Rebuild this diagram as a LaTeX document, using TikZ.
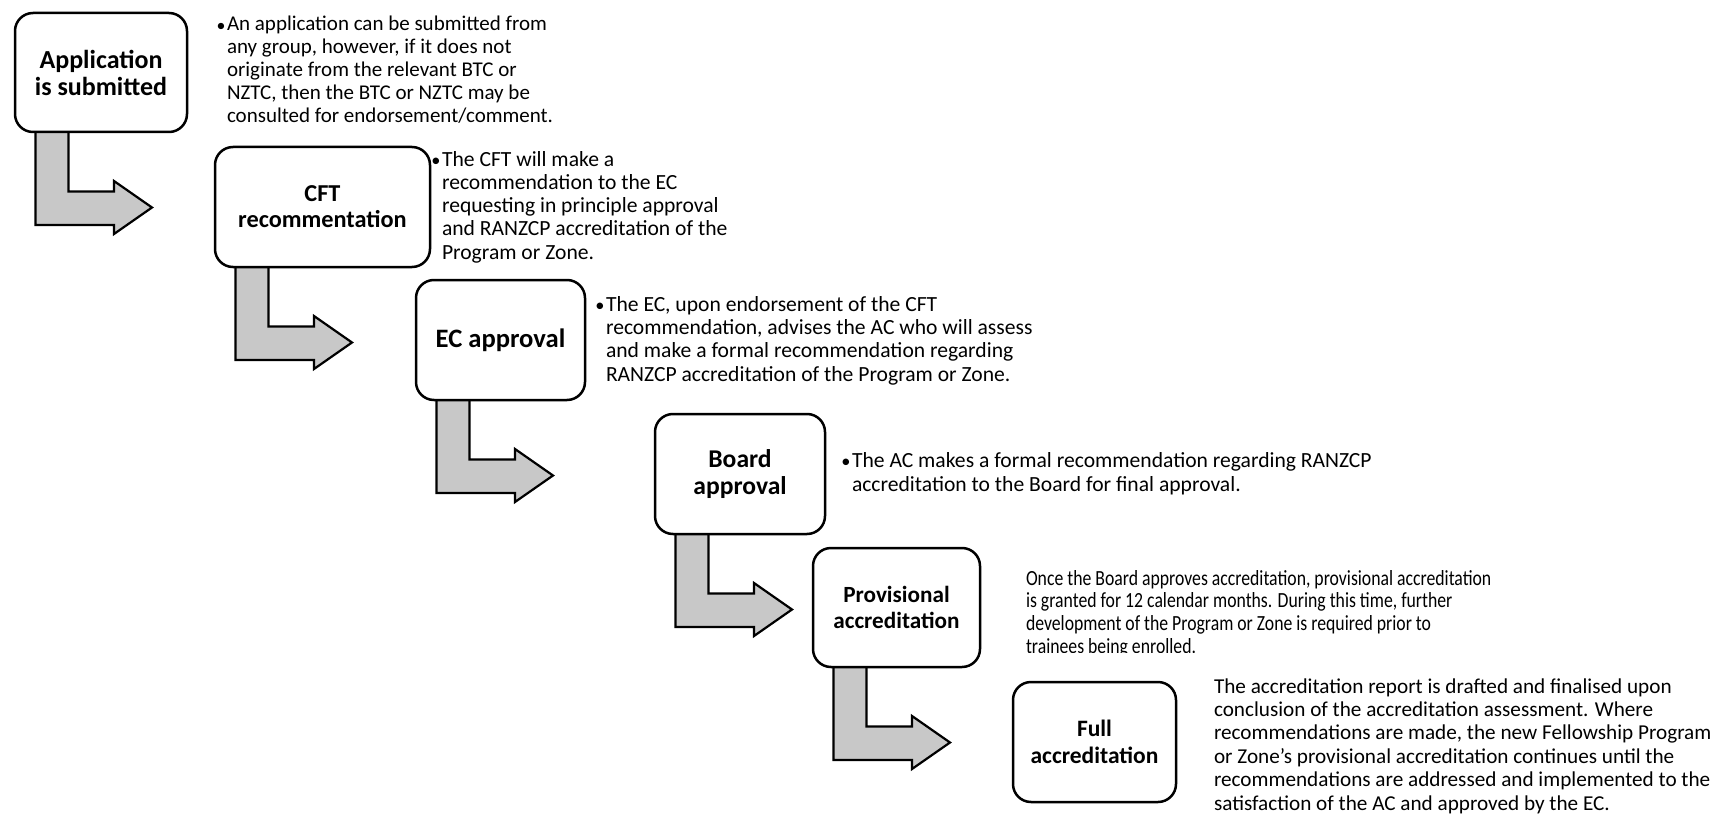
\documentclass[tikz,border=0pt]{standalone}
\usepackage{fontspec}
\setmainfont{Carlito}
\usetikzlibrary{backgrounds}
\definecolor{arrowgray}{RGB}{200,200,200}
\tikzset{
  stepbox/.style={draw, line width=2.5pt, rounded corners=18pt, fill=white,
    align=center, inner sep=0pt, outer sep=0pt},
  note/.style={anchor=base west, align=left, inner sep=0pt, outer sep=0pt,
    font=\fontsize{21.6}{23.3}\selectfont},
  blockarrow/.style={draw, line width=2.2pt, fill=arrowgray, line join=miter},
}
\newcommand{\bult}{\llap{\scalebox{0.85}{\textbullet}\kern1.5pt}}
\newcommand{\larrow}[1]{%
  \draw[blockarrow, shift={(#1.south west)}]
    (20.5,-3) -- (20.5,93) -- (99,93) -- (99,102) -- (137,75.5) -- (99,49)
    -- (99,59.5) -- (53.5,59.5) -- (53.5,-3) -- cycle;}
\begin{document}
\begin{tikzpicture}[x=1pt,y=-1pt]
\useasboundingbox (0,0) rectangle (1719,824);
% boxes
\node[stepbox, minimum width=172pt, minimum height=119pt,
  font=\bfseries\fontsize{26}{27}\selectfont] (b1) at (101,72.5) {Application\\is submitted};
\node[stepbox, minimum width=215pt, minimum height=120pt,
  font=\bfseries\fontsize{24.3}{26}\selectfont] (b2) at (322.5,207) {CFT\\recommentation};
\node[stepbox, minimum width=169pt, minimum height=120pt,
  font=\bfseries\fontsize{26.6}{27}\selectfont] (b3) at (500.5,340) {EC approval};
\node[stepbox, minimum width=170pt, minimum height=120pt,
  font=\bfseries\fontsize{25.6}{26.5}\selectfont] (b4) at (740,474) {Board\\approval};
\node[stepbox, minimum width=167pt, minimum height=119pt,
  font=\bfseries\fontsize{23.2}{26}\selectfont] (b5) at (896.5,607.5) {Provisional\\accreditation};
\node[stepbox, minimum width=163pt, minimum height=120pt,
  font=\bfseries\fontsize{23.5}{27}\selectfont] (b6) at (1094.5,742) {Full\\accreditation};
% arrows, beneath the boxes
\begin{scope}[on background layer]
\larrow{b1}
\larrow{b2}
\larrow{b3}
\larrow{b4}
\larrow{b5}
\end{scope}
% notes (anchored at the baseline of their last line)
\node[note, font=\fontsize{21}{23}\selectfont] (t1) at (227,123) {\bult An application can be submitted from\\
any group, however, if it does not\\
originate from the relevant BTC or\\
NZTC, then the BTC or NZTC may be\\
consulted for endorsement/comment.};
\node[note] (t2) at (442,259.2) {\bult The CFT will make a\\
recommendation to the EC\\
requesting in principle approval\\
and RANZCP accreditation of the\\
Program or Zone.};
\node[note] (t3) at (606,381) {\bult The EC, upon endorsement of the CFT\\
recommendation, advises the AC who will assess\\
and make a formal recommendation regarding\\
RANZCP accreditation of the Program or Zone.};
\node[note] (t4) at (852,491) {\bult The AC makes a formal recommendation regarding RANZCP\\
accreditation to the Board for final approval.};
\begin{scope}
\clip (1000,560) rectangle (1719,652.5);
\node[note, xscale=0.82, transform shape, font=\fontsize{21.6}{22.8}\selectfont] (t5) at (1026,653.5) {Once the Board approves accreditation, provisional accreditation\\
is granted for 12 calendar months. During this time, further\\
development of the Program or Zone is required prior to\\
trainees being enrolled.};
\end{scope}
\node[note, font=\fontsize{21.2}{23.4}\selectfont] (t6) at (1214,810) {The accreditation report is drafted and finalised upon\\
conclusion of the accreditation assessment. Where\\
recommendations are made, the new Fellowship Program\\
or Zone’s provisional accreditation continues until the\\
recommendations are addressed and implemented to the\\
satisfaction of the AC and approved by the EC.};
\end{tikzpicture}
\end{document}
